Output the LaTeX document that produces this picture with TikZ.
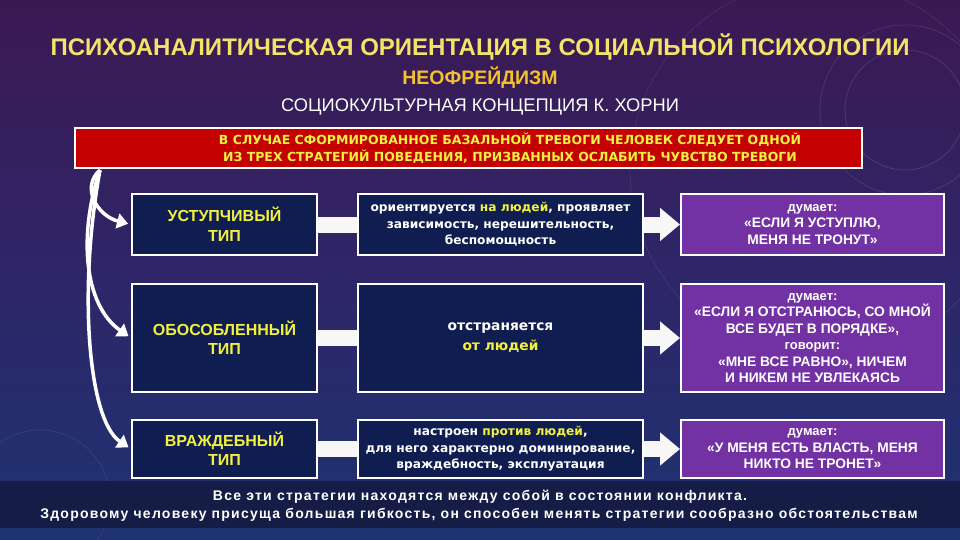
\documentclass[tikz,border=0pt]{standalone}
\usepackage{fontspec}
\usepackage{graphicx}
\setmainfont{Liberation Sans}
\newfontfamily\heavyfont{DejaVu Sans}
\newfontfamily\spacedfont[LetterSpace=9]{Liberation Sans}
\usetikzlibrary{calc,arrows.meta}
\definecolor{bgtop}{HTML}{3C1852}
\definecolor{bgmid}{HTML}{2E2668}
\definecolor{bgbot}{HTML}{1E3272}
\definecolor{navy}{HTML}{0F1D50}
\definecolor{violet}{HTML}{7232A4}
\definecolor{ttlyellow}{HTML}{F2E46A}
\definecolor{orangey}{HTML}{F3C12E}
\definecolor{banred}{HTML}{C40000}
\definecolor{hiyel}{HTML}{F2F040}
\definecolor{bandcol}{HTML}{141B42}
\tikzset{
  box/.style={draw=white, line width=2pt, minimum height=#1, inner sep=2pt, align=center},
  typebox/.style={box=#1, fill=navy, minimum width=185pt, text=hiyel,
     font=\bfseries\fontsize{16}{19.5}\selectfont},
  descbox/.style={box=#1, fill=navy, minimum width=285pt, text=white,
     font=\heavyfont\bfseries\fontsize{12.2}{16.5}\selectfont},
  thinkbox/.style={box=#1, fill=violet, minimum width=263pt, text=white,
     font=\bfseries\fontsize{13.8}{16.5}\selectfont},
  bar/.style={line width=16pt, white!94!gray},
  blockarrow/.style={line width=16pt, white!94!gray, -{Triangle[width=32pt,length=20pt]}},
  curv/.style={line width=3.5pt, white, -{Triangle[width=15pt,length=11pt]}, shorten >=3pt},
}
\begin{document}
\begin{tikzpicture}[x=1pt,y=-1pt]
\useasboundingbox (0,0) rectangle (960,540);
\shade[top color=bgtop, bottom color=bgbot, middle color=bgmid] (0,0) rectangle (960,540);
% faint decorative circles
\draw[white, opacity=0.12, line width=0.8pt] (905,110) circle[radius=60];
\draw[white, opacity=0.10, line width=0.8pt] (905,110) circle[radius=85];
\draw[white, opacity=0.08, line width=0.8pt] (820,170) circle[radius=190];
\draw[white, opacity=0.08, line width=0.8pt] (40,500) circle[radius=70];

% titles
\node (title) at (480,47) {\textcolor{ttlyellow}{\bfseries\fontsize{24}{27}\selectfont ПСИХОАНАЛИТИЧЕСКАЯ ОРИЕНТАЦИЯ В СОЦИАЛЬНОЙ ПСИХОЛОГИИ}};
\node (neo) at (480,78) {\textcolor{orangey}{\bfseries\fontsize{19.5}{22}\selectfont НЕОФРЕЙДИЗМ}};
\node (sub) at (480,107) {\textcolor{white}{\fontsize{18.3}{21}\selectfont СОЦИОКУЛЬТУРНАЯ КОНЦЕПЦИЯ К. ХОРНИ}};

% banner
\node[draw=white, line width=2pt, fill=banred, minimum width=787pt, minimum height=40pt] (banner) at (468.5,148) {};
\node[align=center, text=hiyel, font=\heavyfont\bfseries\fontsize{12.5}{17.5}\selectfont] (bantext) at (510,148)
  {В СЛУЧАЕ СФОРМИРОВАННОЕ БАЗАЛЬНОЙ ТРЕВОГИ ЧЕЛОВЕК СЛЕДУЕТ ОДНОЙ\\ИЗ ТРЕХ СТРАТЕГИЙ ПОВЕДЕНИЯ, ПРИЗВАННЫХ ОСЛАБИТЬ ЧУВСТВО ТРЕВОГИ};

% row 1
\node[typebox=61pt] (l1) at (224.5,224.5) {УСТУПЧИВЫЙ\\ТИП};
\node[descbox=61pt] (m1) at (500.5,224.5) {ориентируется \textcolor{hiyel}{на людей}, проявляет\\зависимость, нерешительность,\\беспомощность};
\node[thinkbox=61pt] (r1) at (812.5,224.5) {{\fontsize{13}{16.5}\selectfont думает:}\\«ЕСЛИ Я УСТУПЛЮ,\\МЕНЯ НЕ ТРОНУТ»};
% row 2
\node[typebox=108pt] (l2) at (224.5,338) {ОБОСОБЛЕННЫЙ\\ТИП};
\node[descbox=108pt, font=\heavyfont\bfseries\fontsize{13.8}{20}\selectfont] (m2) at (500.5,338) {отстраняется\\\textcolor{hiyel}{от людей}};
\node[thinkbox=108pt] (r2) at (812.5,338) {{\fontsize{13}{16.5}\selectfont думает:}\\«ЕСЛИ Я ОТСТРАНЮСЬ, СО МНОЙ\\ВСЕ БУДЕТ В ПОРЯДКЕ»,\\{\fontsize{13}{16.5}\selectfont говорит:}\\«МНЕ ВСЕ РАВНО», НИЧЕМ\\И НИКЕМ НЕ УВЛЕКАЯСЬ};
% row 3
\node[typebox=58pt] (l3) at (224.5,449) {ВРАЖДЕБНЫЙ\\ТИП};
\node[descbox=58pt] (m3) at (500.5,449) {настроен \textcolor{hiyel}{против людей},\\для него характерно доминирование,\\враждебность, эксплуатация};
\node[thinkbox=58pt] (r3) at (812.5,449) {{\fontsize{13}{16.5}\selectfont думает:}\\«У МЕНЯ ЕСТЬ ВЛАСТЬ, МЕНЯ\\НИКТО НЕ ТРОНЕТ»};

% connectors
\foreach \i in {1,2,3} {
  \draw[bar] (l\i.east) -- (m\i.west);
  \draw[blockarrow] (m\i.east) -- (r\i.west);
}

% curved arrows from banner
\coordinate (src) at (100,170);
\draw[curv] (src) .. controls (80,188) and (98,216) .. (l1.west);
\draw[curv] (src) .. controls (78,235) and (84,305) .. (l2.west);
\draw[curv] (src) .. controls (78,290) and (88,420) .. (l3.west);

% bottom band
\fill[bandcol, opacity=0.9] (0,481) rectangle (960,528);
\node[text=white, font=\spacedfont\bfseries\fontsize{14}{16}\selectfont] (con1) at (480,497) {Все эти стратегии находятся между собой в состоянии конфликта.};
\node[text=white, font=\spacedfont\bfseries\fontsize{14}{16}\selectfont] (con2) at (479,515) {Здоровому человеку присуща большая гибкость, он способен менять стратегии сообразно обстоятельствам};
\end{tikzpicture}
\end{document}
